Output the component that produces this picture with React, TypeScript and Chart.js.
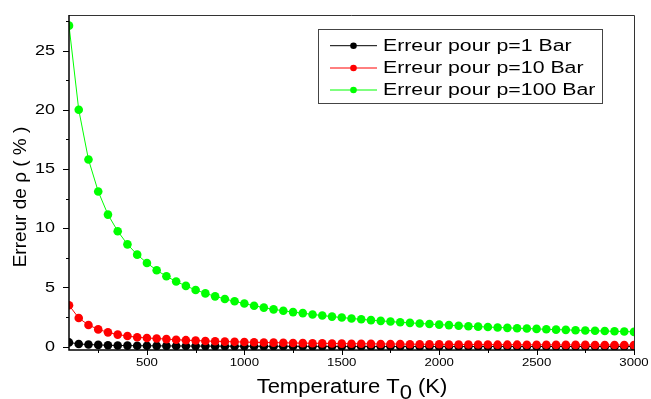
import React, { useEffect, useRef } from "react";
import { Chart, registerables } from "chart.js";

Chart.register(...registerables);

const TEMPERATURES = [
  100, 150, 200, 250, 300, 350, 400, 450, 500, 550, 600, 650, 700, 750, 800, 850, 900, 950, 1000,
  1050, 1100, 1150, 1200, 1250, 1300, 1350, 1400, 1450, 1500, 1550, 1600, 1650, 1700, 1750, 1800,
  1850, 1900, 1950, 2000, 2050, 2100, 2150, 2200, 2250, 2300, 2350, 2400, 2450, 2500, 2550, 2600,
  2650, 2700, 2750, 2800, 2850, 2900, 2950, 3000,
];

const ERR_1_BAR = [
  0.36, 0.23, 0.18, 0.15, 0.12, 0.1, 0.09, 0.08, 0.075, 0.07, 0.065, 0.06, 0.055, 0.05, 0.048, 0.046,
  0.043, 0.041, 0.039, 0.037, 0.035, 0.034, 0.033, 0.031, 0.03, 0.029, 0.028, 0.027, 0.026, 0.025,
  0.025, 0.024, 0.023, 0.023, 0.022, 0.021, 0.021, 0.02, 0.02, 0.019, 0.019, 0.018, 0.018, 0.018,
  0.017, 0.017, 0.017, 0.016, 0.016, 0.016, 0.015, 0.015, 0.015, 0.015, 0.014, 0.014, 0.014, 0.014,
  0.013,
];

const ERR_10_BAR = [
  3.5, 2.42, 1.83, 1.46, 1.21, 1.02, 0.9, 0.8, 0.73, 0.69, 0.64, 0.59, 0.55, 0.52, 0.48, 0.46, 0.43,
  0.41, 0.39, 0.37, 0.35, 0.34, 0.33, 0.31, 0.3, 0.29, 0.28, 0.27, 0.26, 0.25, 0.25, 0.24, 0.23, 0.23,
  0.22, 0.21, 0.21, 0.2, 0.2, 0.19, 0.19, 0.18, 0.18, 0.18, 0.17, 0.17, 0.17, 0.16, 0.16, 0.16, 0.15,
  0.15, 0.15, 0.15, 0.14, 0.14, 0.14, 0.14, 0.13,
];

const ERR_100_BAR = [
  27.1, 20.0, 15.8, 13.1, 11.15, 9.75, 8.64, 7.77, 7.07, 6.45, 5.94, 5.5, 5.13, 4.79, 4.5, 4.25, 4.03,
  3.83, 3.64, 3.46, 3.3, 3.15, 3.03, 2.92, 2.83, 2.72, 2.63, 2.54, 2.46, 2.38, 2.31, 2.24, 2.18, 2.12,
  2.06, 2.01, 1.96, 1.91, 1.86, 1.82, 1.77, 1.73, 1.69, 1.66, 1.62, 1.59, 1.56, 1.53, 1.5, 1.47, 1.44,
  1.42, 1.39, 1.37, 1.34, 1.32, 1.3, 1.28, 1.25,
];

const SERIES_LABELS = ["Erreur pour p=1 Bar", "Erreur pour p=10 Bar", "Erreur pour p=100 Bar"];
const SERIES_COLORS = ["#000000", "#ff0000", "#00ff00"];

const X_MAJOR_TICKS = [500, 1000, 1500, 2000, 2500, 3000];
const X_MINOR_TICKS = [250, 750, 1250, 1750, 2250, 2750];
const Y_MAJOR_TICKS = [0, 5, 10, 15, 20, 25];
const Y_MINOR_TICKS = [2.5, 7.5, 12.5, 17.5, 22.5, 27.5];

const X_TITLE_MAIN = "Temperature T";
const X_TITLE_SUB = "0";
const X_TITLE_END = " (K)";
const Y_TITLE = "Erreur de \u03C1 ( % )";

const FONT = '"Liberation Sans", Arial, sans-serif';

function stretchedText(
  ctx: CanvasRenderingContext2D,
  text: string,
  x: number,
  y: number,
  size: number,
  sx: number,
  align: CanvasTextAlign,
  baseline: CanvasTextBaseline
) {
  ctx.save();
  ctx.font = `${size}px ${FONT}`;
  ctx.fillStyle = "#000";
  ctx.textAlign = align;
  ctx.textBaseline = baseline;
  ctx.translate(x, y);
  ctx.scale(sx, 1);
  ctx.fillText(text, 0, 0);
  ctx.restore();
}

const framePlugin = {
  id: "originFrame",
  afterDraw(chart: any) {
    const ctx: CanvasRenderingContext2D = chart.ctx;
    const { left, right, top, bottom } = chart.chartArea;
    const xs = chart.scales.x;
    const ys = chart.scales.y;

    ctx.save();
    ctx.strokeStyle = "#333";
    ctx.lineWidth = 1;
    ctx.beginPath();
    ctx.moveTo(left, top + 0.5);
    ctx.lineTo(right + 0.5, top + 0.5);
    ctx.lineTo(right + 0.5, bottom);
    ctx.stroke();
    ctx.strokeStyle = "#000";
    ctx.lineWidth = 1.5;
    ctx.beginPath();
    ctx.moveTo(left, top);
    ctx.lineTo(left, bottom);
    ctx.lineTo(right + 1, bottom);
    ctx.stroke();

    ctx.lineWidth = 1;
    ctx.beginPath();
    for (const t of X_MAJOR_TICKS) {
      const px = Math.round(xs.getPixelForValue(t)) + 0.5;
      ctx.moveTo(px, bottom);
      ctx.lineTo(px, bottom + 5);
    }
    for (const t of X_MINOR_TICKS) {
      const px = Math.round(xs.getPixelForValue(t)) + 0.5;
      ctx.moveTo(px, bottom);
      ctx.lineTo(px, bottom + 3);
    }
    for (const t of Y_MAJOR_TICKS) {
      const py = Math.round(ys.getPixelForValue(t)) + 0.5;
      ctx.moveTo(left, py);
      ctx.lineTo(left - 6, py);
    }
    for (const t of Y_MINOR_TICKS) {
      const py = Math.round(ys.getPixelForValue(t)) + 0.5;
      ctx.moveTo(left, py);
      ctx.lineTo(left - 3, py);
    }
    ctx.stroke();
    ctx.restore();

    for (const t of X_MAJOR_TICKS) {
      stretchedText(ctx, String(t), xs.getPixelForValue(t), bottom + 13, 11, 1.2, "center", "middle");
    }
    for (const t of Y_MAJOR_TICKS) {
      stretchedText(ctx, String(t), left - 14, ys.getPixelForValue(t), 15, 1.2, "right", "middle");
    }

    ctx.save();
    const size = 20;
    const sx = 1.1;
    ctx.font = `${size}px ${FONT}`;
    const w1 = ctx.measureText(X_TITLE_MAIN).width * sx;
    const w2 = ctx.measureText(X_TITLE_SUB).width * sx;
    const w3 = ctx.measureText(X_TITLE_END).width * sx;
    const cx = 352;
    const start = cx - (w1 + w2 + w3) / 2;
    ctx.restore();
    stretchedText(ctx, X_TITLE_MAIN, start, 393, size, sx, "left", "alphabetic");
    stretchedText(ctx, X_TITLE_SUB, start + w1, 399, size, sx, "left", "alphabetic");
    stretchedText(ctx, X_TITLE_END, start + w1 + w2, 393, size, sx, "left", "alphabetic");

    ctx.save();
    ctx.font = `19px ${FONT}`;
    ctx.fillStyle = "#000";
    ctx.textAlign = "center";
    ctx.textBaseline = "alphabetic";
    ctx.translate(26, 197);
    ctx.rotate(-Math.PI / 2);
    ctx.fillText(Y_TITLE, 0, 0);
    ctx.restore();

    ctx.save();
    ctx.strokeStyle = "#444";
    ctx.lineWidth = 1;
    ctx.strokeRect(318.5, 29.5, 284, 74);
    const rows = [45.7, 68, 90];
    chart.data.datasets.forEach((ds: any, i: number) => {
      const y = rows[i];
      ctx.strokeStyle = ds.borderColor;
      ctx.lineWidth = 1;
      ctx.beginPath();
      ctx.moveTo(330, y);
      ctx.lineTo(377, y);
      ctx.stroke();
      ctx.fillStyle = ds.borderColor;
      ctx.beginPath();
      ctx.arc(353.5, y, 3.3, 0, Math.PI * 2);
      ctx.fill();
      stretchedText(ctx, ds.label, 383, y + 0.5, 16, 1.33, "left", "middle");
    });
    ctx.restore();
  },
};

export default function App() {
  const canvasRef = useRef<HTMLCanvasElement | null>(null);

  useEffect(() => {
    document.body.style.margin = "0";
    const canvas = canvasRef.current;
    if (!canvas) return;
    const series = [ERR_1_BAR, ERR_10_BAR, ERR_100_BAR];
    const chart = new Chart(canvas, {
      type: "line",
      data: {
        datasets: series.map((vals, i) => ({
          label: SERIES_LABELS[i],
          data: TEMPERATURES.map((t, j) => ({ x: t, y: vals[j] })),
          borderColor: SERIES_COLORS[i],
          backgroundColor: SERIES_COLORS[i],
          pointBackgroundColor: SERIES_COLORS[i],
          pointBorderColor: SERIES_COLORS[i],
          pointBorderWidth: 0,
          pointRadius: 4.3,
          borderWidth: 1,
          tension: 0,
          clip: 0,
          order: 2 - i,
        })),
      },
      options: {
        animation: false,
        responsive: false,
        devicePixelRatio: 1,
        layout: { padding: { left: 69, right: 17, top: 15, bottom: 49 } },
        plugins: { legend: { display: false }, tooltip: { enabled: false } },
        scales: {
          x: { type: "linear", display: false, min: 100, max: 3000 },
          y: { type: "linear", display: false, min: -0.28, max: 28 },
        },
      },
      plugins: [framePlugin],
    } as any);
    return () => chart.destroy();
  }, []);

  return (
    <div style={{ position: "absolute", left: 0, top: 0, width: 651, height: 399, background: "#fff" }}>
      <canvas ref={canvasRef} width={651} height={399} style={{ display: "block" }} />
    </div>
  );
}
